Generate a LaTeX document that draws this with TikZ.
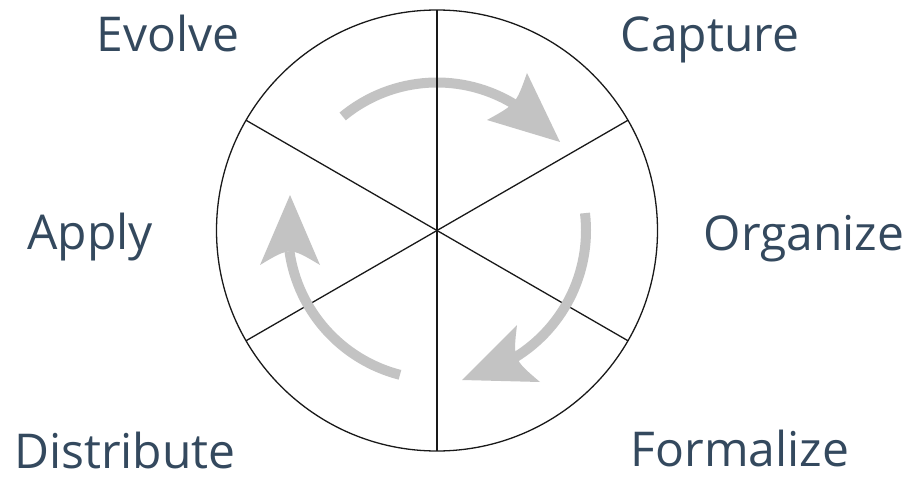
\documentclass[tikz,border=0pt]{standalone}
\usepackage{fontspec}
\setmainfont{Open Sans}
\usetikzlibrary{calc}
\definecolor{labelc}{HTML}{34495E}
\definecolor{arrowc}{HTML}{C3C3C3}
\tikzset{
  lbl/.style={anchor=base, inner sep=0pt, text=labelc, font=\fontsize{48}{56}\selectfont},
  spoke/.style={draw=black!90, line width=1.3pt},
  shaft/.style={draw=arrowc, line width=10pt, line cap=butt},
  headfill/.style={fill=arrowc, draw=none}
}
\begin{document}
\begin{tikzpicture}[x=1pt,y=1pt]
\useasboundingbox (0,0) rectangle (909,480);
\coordinate (c) at (437,249.5);
% spoke end points
\coordinate (p30) at ($(c)+(30:220.5)$);
\coordinate (p150) at ($(c)+(150:220.5)$);
\coordinate (p210) at ($(c)+(210:220.5)$);
\coordinate (p330) at ($(c)+(330:220.5)$);
\coordinate (p90) at ($(c)+(90:220.5)$);
\coordinate (p270) at ($(c)+(270:220.5)$);
% diagonals
\draw[spoke] (p30) -- (p210);
\draw[spoke] (p150) -- (p330);
% arrow 1 (top)
\draw[shaft] ($(c)+(129.6:148)$) arc[start angle=129.6, end angle=57, radius=148];
\fill[headfill] (527,407) -- (560,338) -- (487,360) .. controls (516,376) .. (527,407) -- cycle;
% arrow 2 (right)
\draw[shaft] ($(c)+(6.7:149)$) arc[start angle=6.7, end angle=-61, radius=149];
\fill[headfill] (540,98) -- (462,100) -- (517,155) .. controls (513,121) .. (540,98) -- cycle;
% arrow 3 (left)
\draw[shaft] ($(c)+(255.6:149)$) arc[start angle=255.6, end angle=188, radius=149];
\fill[headfill] (260,215) -- (290,285) -- (320,215) .. controls (290,233) .. (260,215) -- cycle;
% vertical spoke and circle
\draw[spoke] (p90) -- (p270);
\draw[spoke] (c) circle[radius=220.5];
% labels
\node[lbl] (evolve) at (168,428) {Evolve};
\node[lbl] (capture) at (710,428) {Capture};
\node[lbl] (apply) at (90,231) {Apply};
\node[lbl] (organize) at (804,230) {Organize};
\node[lbl] (distribute) at (125,12) {Distribute};
\node[lbl] (formalize) at (740,14) {Formalize};
\end{tikzpicture}
\end{document}
